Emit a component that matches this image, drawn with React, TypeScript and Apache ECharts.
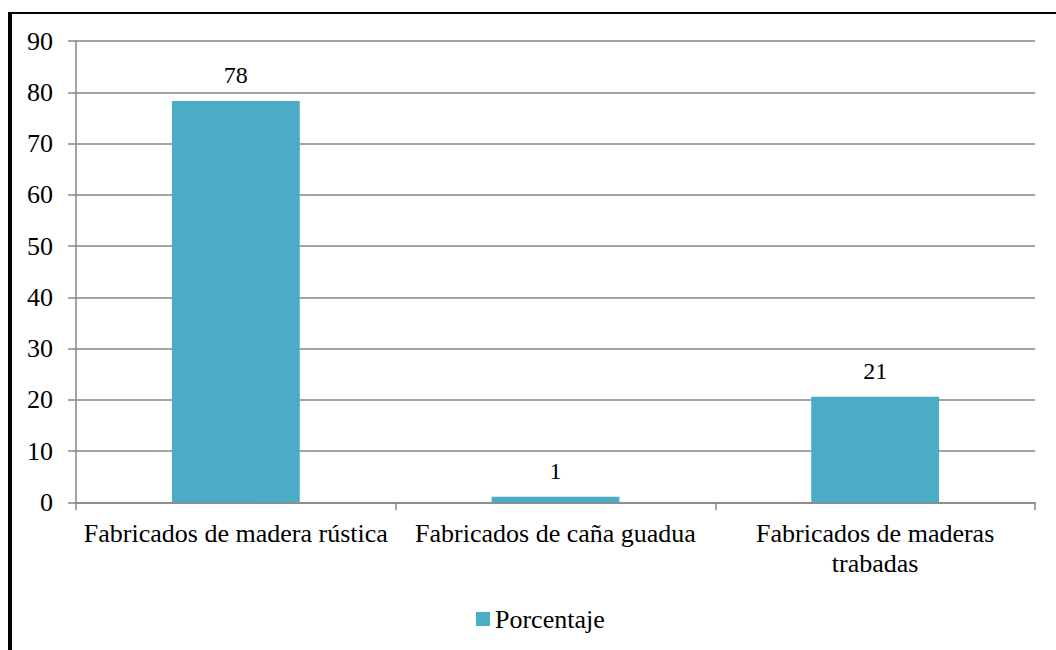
import React, { useEffect, useRef } from "react";
import * as echarts from "echarts";

const categories = [
  "Fabricados de madera rústica",
  "Fabricados de caña guadua",
  "Fabricados de maderas\ntrabadas",
];
const values = [78.3, 1.1, 20.6];
const valueLabels = ["78", "1", "21"];
const seriesName = "Porcentaje";
const yMin = 0;
const yMax = 90;
const yInterval = 10;

const FONT = '"Liberation Serif", "Times New Roman", serif';
const GRAY = "#868686";
const BAR = "#4BACC6";

export default function App() {
  const ref = useRef<HTMLDivElement>(null);
  useEffect(() => {
    if (!ref.current) return;
    const chart = echarts.init(ref.current, undefined, { renderer: "svg" });
    chart.setOption({
      animation: false,
      backgroundColor: "#ffffff",
      textStyle: { fontFamily: FONT, color: "#000" },
      grid: { left: 76, right: 21, top: 41, bottom: 147.7, containLabel: false },
      legend: {
        data: [seriesName],
        left: 476,
        top: 606,
        padding: 0,
        itemWidth: 14,
        itemHeight: 14,
        itemGap: 5,
        icon: "rect",
        textStyle: { fontFamily: FONT, fontSize: 26, color: "#000", padding: [0, 0, 0, 0] },
      },
      xAxis: {
        type: "category",
        data: categories,
        boundaryGap: true,
        axisLine: { show: true, lineStyle: { color: GRAY, width: 1.5 } },
        axisTick: { show: true, length: 8, alignWithLabel: false, lineStyle: { color: GRAY, width: 1.5 } },
        axisLabel: {
          interval: 0,
          margin: 16,
          fontFamily: FONT,
          fontSize: 26,
          lineHeight: 30,
          color: "#000",
        },
      },
      yAxis: {
        type: "value",
        min: yMin,
        max: yMax,
        interval: yInterval,
        axisLine: { show: true, lineStyle: { color: GRAY, width: 1.5 } },
        axisTick: { show: true, length: 8, lineStyle: { color: GRAY, width: 1.5 } },
        splitLine: { show: true, lineStyle: { color: GRAY, width: 1.5 } },
        axisLabel: { margin: 23, fontFamily: FONT, fontSize: 26, color: "#000" },
      },
      series: [
        {
          name: seriesName,
          type: "bar",
          data: values,
          barWidth: "40%",
          itemStyle: { color: BAR },
          label: {
            show: true,
            position: "top",
            distance: 14,
            fontFamily: FONT,
            fontSize: 24,
            color: "#000",
            formatter: (p: any) => valueLabels[p.dataIndex],
          },
        },
      ],
      graphic: [
        {
          type: "rect",
          shape: { x: 8, y: 12, width: 1048, height: 2 },
          style: { fill: "#000" },
          silent: true,
        },
        {
          type: "rect",
          shape: { x: 8, y: 12, width: 4, height: 638 },
          style: { fill: "#000" },
          silent: true,
        },
      ],
    });
    return () => chart.dispose();
  }, []);
  return (
    <div
      ref={ref}
      style={{ position: "absolute", left: 0, top: 0, width: 1056, height: 650 }}
    />
  );
}
